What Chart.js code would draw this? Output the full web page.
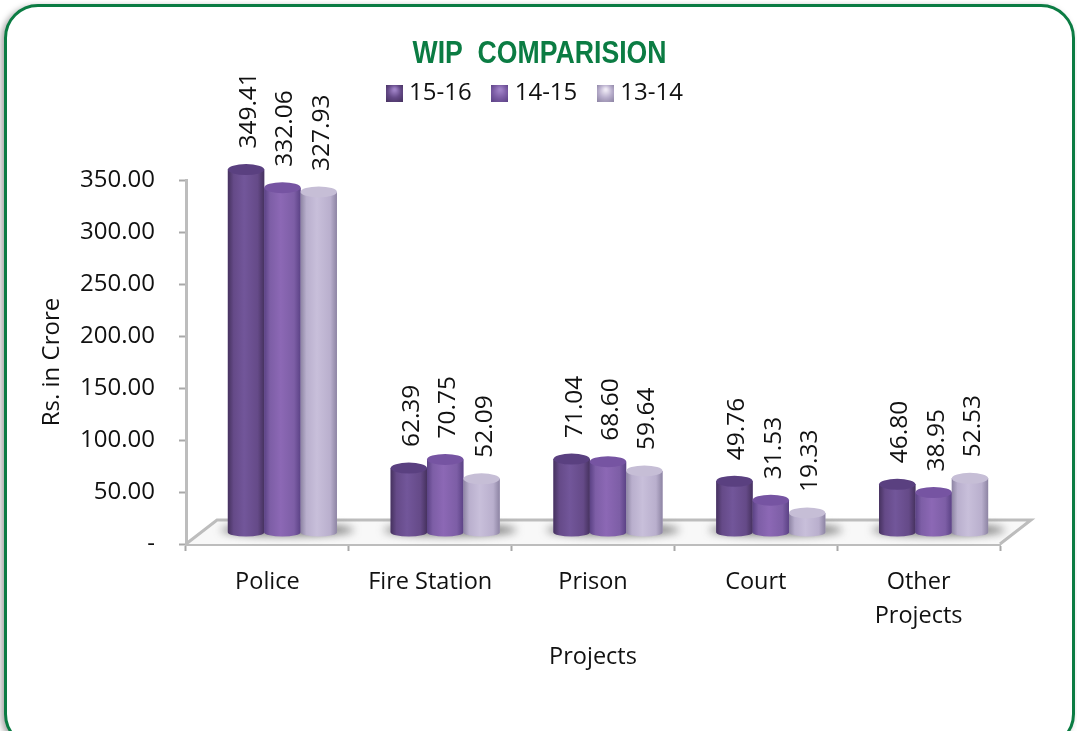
<!DOCTYPE html>
<html><head><meta charset="utf-8">
<style>
html,body{margin:0;padding:0;background:#fff;width:1077px;height:731px;overflow:hidden}
#card{position:absolute;left:4px;top:4px;width:1065px;height:738px;border:3px solid #0b7c43;border-radius:34px;box-shadow:-3px 2px 6px rgba(0,0,0,.35);background:#fff}
#wrap{position:absolute;left:0;top:0;width:1077px;height:731px}
</style>
<script src="https://cdn.jsdelivr.net/npm/chart.js@4/dist/chart.umd.min.js"></script>
</head><body>
<div id="card"></div>
<div id="wrap"><canvas id="c" width="1077" height="731"></canvas></div>
<script>
const titleText='WIP  COMPARISION';
const categories=['Police','Fire Station','Prison','Court',['Other','Projects']];
const seriesNames=['15-16','14-15','13-14'];
const values1516=[349.41,62.39,71.04,49.76,46.80];
const values1415=[332.06,70.75,68.60,31.53,38.95];
const values1314=[327.93,52.09,59.64,19.33,52.53];
const yTicks=[0,50,100,150,200,250,300,350];
const palette=[
 {base:'#654a88',edge:'#46325f',mid:'#72569a',cap:'#5a4080',hi:'#a184c8'},
 {base:'#7d5ea6',edge:'#5b4285',mid:'#8c68b5',cap:'#7654a2',hi:'#a184c8'},
 {base:'#b9afcd',edge:'#8d84a3',mid:'#c8bfda',cap:'#c6bed6',hi:'#efeaf5'}
];
const SHIFT_X=15,SHIFT_Y=-11,RY=5.5,RY_BASE=4;
const FONT='"Open Sans"';

function swatch(p){
 const c=document.createElement('canvas');c.width=c.height=17;
 const g=c.getContext('2d');
 const r=g.createRadialGradient(9,5,1,8.5,8.5,12);
 r.addColorStop(0,p.hi);r.addColorStop(.5,p.base);r.addColorStop(1,p.edge);
 g.fillStyle=r;g.fillRect(0,0,17,17);return c;
}
function hgrad(ctx,x0,x1,p){
 const g=ctx.createLinearGradient(x0,0,x1,0);
 g.addColorStop(0,p.edge);g.addColorStop(.16,p.base);g.addColorStop(.45,p.mid);g.addColorStop(.82,p.base);g.addColorStop(1,p.edge);
 return g;
}
const scene={
 id:'scene',
 afterLayout(chart){chart.legend.left+=18;chart.legend.right+=18;},
 beforeDatasetsDraw(chart){
  const {ctx,chartArea:a}=chart;
  ctx.save();
  const dx=31,dy=24;
  ctx.beginPath();ctx.moveTo(a.left,a.bottom);ctx.lineTo(a.left+dx,a.bottom-dy);ctx.lineTo(a.right+dx,a.bottom-dy);ctx.lineTo(a.right,a.bottom);ctx.closePath();
  ctx.fillStyle='#f8f8f8';ctx.fill();
  ctx.strokeStyle='#bdbdbd';ctx.lineWidth=3;
  ctx.beginPath();ctx.moveTo(a.left,a.bottom);ctx.lineTo(a.left+dx,a.bottom-dy);ctx.lineTo(a.right+dx,a.bottom-dy);ctx.lineTo(a.right,a.bottom);ctx.stroke();
  chart.getDatasetMeta(0).data.forEach((el,i)=>{
   const last=chart.getDatasetMeta(2).data[i];
   ctx.save();ctx.filter='blur(4px)';ctx.fillStyle='rgba(80,80,80,.75)';
   ctx.beginPath();ctx.ellipse((el.x+last.x)/2+SHIFT_X+5,a.bottom-14,(last.x-el.x)/2+el.width/2+12,6,0,0,Math.PI*2);ctx.fill();ctx.restore();
  });
  ctx.restore();
  ctx.save();ctx.translate(SHIFT_X,SHIFT_Y);
 },
 afterDatasetsDraw(chart){
  const {ctx}=chart;
  chart.data.datasets.forEach((ds,di)=>{
   const p=palette[di];
   chart.getDatasetMeta(di).data.forEach(el=>{
    const x0=el.x-el.width/2,x1=el.x+el.width/2,rx=el.width/2;
    ctx.fillStyle=hgrad(ctx,x0,x1,p);
    ctx.beginPath();
    ctx.moveTo(x0,el.y);ctx.lineTo(x0,el.base);
    ctx.ellipse(el.x,el.base,rx,RY_BASE,0,Math.PI,0,true);
    ctx.lineTo(x1,el.y);ctx.closePath();ctx.fill();
    ctx.fillStyle=p.cap;
    ctx.beginPath();ctx.ellipse(el.x,el.y,rx,RY,0,0,Math.PI*2);ctx.fill();
   });
  });
  ctx.restore();
  ctx.save();
  ctx.fillStyle='#111';ctx.font='24.5px '+FONT;ctx.textAlign='left';ctx.textBaseline='middle';
  chart.data.datasets.forEach((ds,di)=>{
   chart.getDatasetMeta(di).data.forEach((el,i)=>{
    ctx.save();ctx.translate(el.x+SHIFT_X+3,el.y+SHIFT_Y-21);ctx.rotate(-Math.PI/2);
    ctx.fillText(ds.data[i].toFixed(2),0,0);ctx.restore();
   });
  });
  ctx.restore();
 },
 afterDraw(chart){
  const {ctx}=chart;
  ctx.save();
  ctx.font='bold 32px "Liberation Sans"';ctx.fillStyle='#0b7c43';ctx.textAlign='left';ctx.textBaseline='middle';
  const w=ctx.measureText(titleText).width, sx=254/w;
  ctx.translate(412.5,54);ctx.scale(sx,1);ctx.fillText(titleText,0,0);
  ctx.restore();
 }
};
new Chart(document.getElementById('c'),{
 type:'bar',
 data:{labels:categories,datasets:[
  {label:seriesNames[0],data:values1516,backgroundColor:palette[0].base},
  {label:seriesNames[1],data:values1415,backgroundColor:palette[1].base},
  {label:seriesNames[2],data:values1314,backgroundColor:palette[2].base}
 ]},
 plugins:[scene],
 options:{
  responsive:false,animation:false,
  categoryPercentage:.67,barPercentage:1,
  layout:{padding:{left:38,right:77,top:56,bottom:60}},
  plugins:{
   title:{display:false},
   subtitle:{display:true,text:' ',weight:500,font:{size:10},padding:{top:0,bottom:53}},
   legend:{display:true,position:'top',labels:{color:'#111',font:{family:FONT,size:24},usePointStyle:true,pointStyleWidth:6,padding:25,
     generateLabels(chart){return chart.data.datasets.map((d,i)=>({text:d.label,pointStyle:swatch(palette[i]),datasetIndex:i,fontColor:'#111',lineWidth:0,strokeStyle:'transparent'}));}}},
   tooltip:{enabled:false}
  },
  scales:{
   x:{
    afterFit(s){s.height=127;},
    border:{color:'#bdbdbd',width:3},
    grid:{drawOnChartArea:false,drawTicks:true,tickLength:7,tickColor:'#a8a8a8',tickWidth:2},
    ticks:{color:'#111',font:{family:FONT,size:23.5,lineHeight:1.45},padding:14,maxRotation:0,autoSkip:false},
    title:{display:true,text:'Projects',color:'#111',font:{family:FONT,size:23.5},padding:{top:8,bottom:0}}
   },
   y:{
    min:0,max:350,
    afterFit(s){s.width=148;},
    afterBuildTicks(s){s.ticks=yTicks.map(v=>({value:v}));},
    border:{color:'#bdbdbd',width:3},
    grid:{drawOnChartArea:false,drawTicks:true,tickLength:7,tickColor:'#a8a8a8',tickWidth:2},
    ticks:{color:'#111',font:{family:FONT,size:24},padding:24,callback:v=>v===0?'-':v.toFixed(2)},
    title:{display:true,text:'Rs. in Crore',color:'#111',font:{family:FONT,size:24},padding:{top:0,bottom:0}}
   }
  }
 }
});
</script>
</body></html>
